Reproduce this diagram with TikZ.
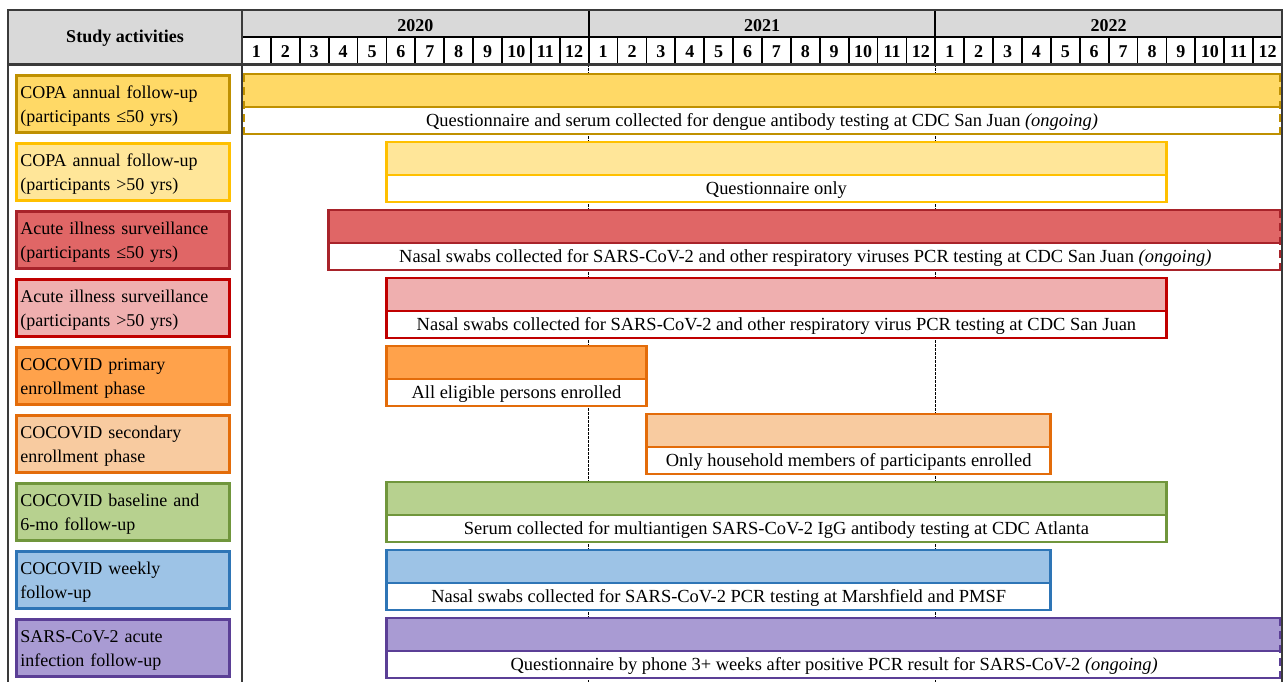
\documentclass[tikz,border=0pt]{standalone}
\usepackage{fontspec}
\setmainfont{Liberation Serif}
\usepackage{tikz}
\usetikzlibrary{positioning}
\newcommand{\lblstrut}{\rule{0pt}{13pt}}
\definecolor{hdrgrey}{HTML}{D9D9D9}
\definecolor{framegrey}{HTML}{3A3A3A}
\definecolor{copagold}{HTML}{FFD966}
\definecolor{copagoldln}{HTML}{BF9000}
\definecolor{copalite}{HTML}{FFE699}
\definecolor{copaliteln}{HTML}{FFC000}
\definecolor{acutered}{HTML}{E06666}
\definecolor{acuteredln}{HTML}{A8232A}
\definecolor{acutepink}{HTML}{EFAFAF}
\definecolor{acutepinkln}{HTML}{C00000}
\definecolor{enrorange}{HTML}{FFA24B}
\definecolor{enrpeach}{HTML}{F8CBA0}
\definecolor{enrln}{HTML}{E36C0A}
\definecolor{basegreen}{HTML}{B7D18F}
\definecolor{basegreenln}{HTML}{70963C}
\definecolor{weekblue}{HTML}{9DC3E6}
\definecolor{weekblueln}{HTML}{2E75B6}
\definecolor{sarspurple}{HTML}{A99BD3}
\definecolor{sarspurpleln}{HTML}{5B3F96}

\begin{document}
\begin{tikzpicture}[x=0.75pt,y=-0.75pt,font=\fontsize{13.85}{16}\selectfont,
  lbl/.style={draw,line width=2.2pt,anchor=north west,outer sep=0pt,minimum width=159.75pt,minimum height=42.75pt,
    text width=154pt,align=left,inner xsep=2.8pt,font=\fontsize{13.5}{17.8}\selectfont},
  bx/.style={line width=2.2pt},
  grid/.style={draw=black,line width=1.3pt},
  frame/.style={draw=framegrey,line width=1.6pt},
  yrline/.style={black,line width=0.7pt,dash pattern=on 2pt off 1pt},
  open/.style={dash pattern=on 6pt off 4pt},
  hdr/.style={font=\fontsize{13.5}{16}\selectfont\bfseries}]
\useasboundingbox (0,0) rectangle (1283,682);

% header
\fill[hdrgrey] (8,10) rectangle (1282,37);
\fill[hdrgrey] (8,37) rectangle (242,64);
\node[hdr] (studyact) at (125,38) {Study activities};

% activity labels
\node[lbl,fill=copagold,draw=copagoldln] (act1) at (16.5,75.5) {\lblstrut COPA annual follow-up\\(participants ≤50 yrs)};
\node[lbl,fill=copalite,draw=copaliteln] (act2) at (16.5,143.5) {\lblstrut COPA annual follow-up\\(participants >50 yrs)};
\node[lbl,fill=acutered,draw=acuteredln] (act3) at (16.5,211.5) {\lblstrut Acute illness surveillance\\(participants ≤50 yrs)};
\node[lbl,fill=acutepink,draw=acutepinkln] (act4) at (16.5,279.5) {\lblstrut Acute illness surveillance\\(participants >50 yrs)};
\node[lbl,fill=enrorange,draw=enrln] (act5) at (16.5,347.5) {\lblstrut COCOVID primary\\enrollment phase};
\node[lbl,fill=enrpeach,draw=enrln] (act6) at (16.5,415.5) {\lblstrut COCOVID secondary\\enrollment phase};
\node[lbl,fill=basegreen,draw=basegreenln] (act7) at (16.5,483.5) {\lblstrut COCOVID baseline and\\6-mo follow-up};
\node[lbl,fill=weekblue,draw=weekblueln] (act8) at (16.5,551.5) {\lblstrut COCOVID weekly\\follow-up};
\node[lbl,fill=sarspurple,draw=sarspurpleln] (act9) at (16.5,619.5) {\lblstrut SARS-CoV-2 acute\\infection follow-up};

% timeline, one unit per month
\begin{scope}[xshift=181.5pt,x=21.6667pt]
\foreach \yr/\c in {2020/0,2021/12,2022/24}{
  \draw[grid] (\c,10) rectangle (\c+12,37);
  \node[hdr] (y\yr) at (\c+6,25.5) {\yr};
}
\foreach \m in {1,...,36}{
  \pgfmathtruncatemacro\mn{mod(\m-1,12)+1}
  \draw[grid,fill=white] (\m-1,37) rectangle (\m,64);
  \node[hdr] (m\m) at (\m-0.5,51.5) {\mn};
}
\draw[yrline] (12,64) -- (12,682) (24,64) -- (24,682);

% COPA <=50, ongoing
\fill[copagold] (0,74) rectangle (36,107);
\fill[white] (0,107) rectangle (36,134);
\draw[bx,copagoldln] (0,74) -- (36,74) (0,107) -- (36,107) (0,134) -- (36,134);
\draw[bx,copagoldln,open] (0.06,74) -- (0.06,134) (35.94,74) -- (35.94,134);
\node (bar1) at (18,122) {Questionnaire and serum collected for dengue antibody testing at CDC San Juan \textit{(ongoing)}};

% COPA >50
\draw[bx,copaliteln,fill=copalite] (5,142) rectangle (32,175);
\draw[bx,copaliteln,fill=white] (5,175) rectangle (32,202);
\node (bar2) at (18.5,190) {Questionnaire only};

% acute illness <=50, ongoing
\fill[acutered] (3,210) rectangle (36,243);
\fill[white] (3,243) rectangle (36,270);
\draw[bx,acuteredln] (36,210) -- (3,210) -- (3,270) -- (36,270) (3,243) -- (36,243);
\draw[bx,acuteredln,open] (35.94,210) -- (35.94,270);
\node (bar3) at (19.5,258) {Nasal swabs collected for SARS-CoV-2 and other respiratory viruses PCR testing at CDC San Juan \textit{(ongoing)}};

% acute illness >50
\draw[bx,acutepinkln,fill=acutepink] (5,278) rectangle (32,311);
\draw[bx,acutepinkln,fill=white] (5,311) rectangle (32,338);
\node (bar4) at (18.5,326) {Nasal swabs collected for SARS-CoV-2 and other respiratory virus PCR testing at CDC San Juan};

% COCOVID primary enrollment
\draw[bx,enrln,fill=enrorange] (5,346) rectangle (14,379);
\draw[bx,enrln,fill=white] (5,379) rectangle (14,406);
\node (bar5) at (9.5,394) {All eligible persons enrolled};

% COCOVID secondary enrollment
\draw[bx,enrln,fill=enrpeach] (14,414) rectangle (28,447);
\draw[bx,enrln,fill=white] (14,447) rectangle (28,474);
\node (bar6) at (21,462) {Only household members of participants enrolled};

% COCOVID baseline
\draw[bx,basegreenln,fill=basegreen] (5,482) rectangle (32,515);
\draw[bx,basegreenln,fill=white] (5,515) rectangle (32,542);
\node (bar7) at (18.5,530) {Serum collected for multiantigen SARS-CoV-2 IgG antibody testing at CDC Atlanta};

% COCOVID weekly
\draw[bx,weekblueln,fill=weekblue] (5,550) rectangle (28,583);
\draw[bx,weekblueln,fill=white] (5,583) rectangle (28,610);
\node (bar8) at (16.5,598) {Nasal swabs collected for SARS-CoV-2 PCR testing at Marshfield and PMSF};

% SARS-CoV-2 acute infection, ongoing
\fill[sarspurple] (5,618) rectangle (36,651);
\fill[white] (5,651) rectangle (36,678);
\draw[bx,sarspurpleln] (36,618) -- (5,618) -- (5,678) -- (36,678) (5,651) -- (36,651);
\draw[bx,sarspurpleln,open] (35.94,618) -- (35.94,678);
\node (bar9) at (20.5,666) {Questionnaire by phone 3+ weeks after positive PCR result for SARS-CoV-2 \textit{(ongoing)}};
\end{scope}

% frame
\draw[frame] (8,682) -- (8,10) -- (1282,10) -- (1282,682);
\draw[frame] (242,10) -- (242,682);
\draw[frame] (8,64.5) -- (1282,64.5);
\end{tikzpicture}
\end{document}
